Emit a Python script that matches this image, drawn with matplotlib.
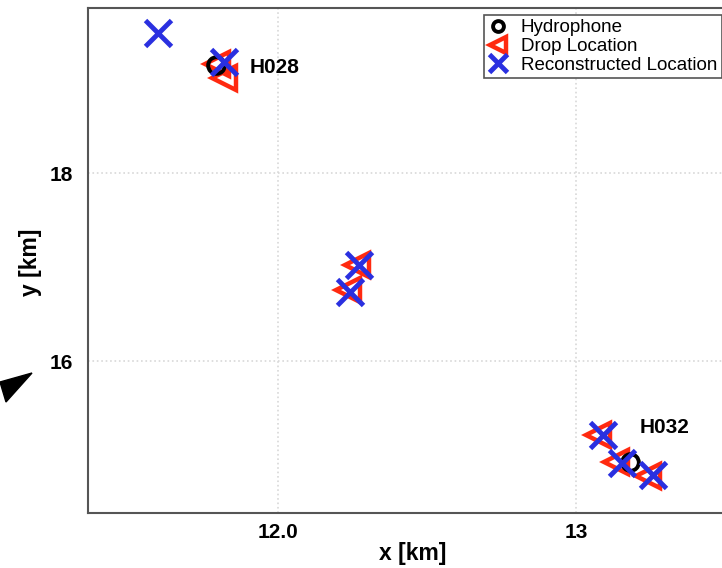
import matplotlib.pyplot as plt
from matplotlib.patches import Polygon

plt.rcParams['font.family'] = ['Liberation Sans', 'DejaVu Sans']

# hydrophone positions [km]
hyd_x = [11.792, 13.181]
hyd_y = [19.15, 14.926]
hyd_names = ['H028', 'H032']

# drop locations [km]
drop_x = [11.795, 11.819, 12.265, 12.235, 13.074, 13.134, 13.242]
drop_y = [19.16, 19.01, 17.02, 16.76, 15.21, 14.93, 14.78]

# reconstructed locations [km]
rec_x = [11.597, 11.819, 12.272, 12.242, 13.091, 13.154, 13.258]
rec_y = [19.49, 19.18, 17.02, 16.73, 15.21, 14.915, 14.787]

fig = plt.figure(figsize=(7.22, 5.68), dpi=100)
ax = fig.add_axes([0.1219, 0.0968, 0.9, 0.889])

ax.plot(hyd_x, hyd_y, 'o', ms=12, mfc='none', mec='black', mew=2.8, zorder=3, label='Hydrophone')
ax.plot(drop_x, drop_y, '<', ms=17, mfc='none', mec='#ff2a10', mew=3.2, zorder=2, label='Drop Location')
ax.plot(rec_x, rec_y, 'x', ms=19, mec='#2a30e0', mew=3.5, zorder=4, label='Reconstructed Location')

ax.text(11.906, 19.12, hyd_names[0], fontsize=15, fontweight='bold', va='center')
ax.text(13.215, 15.29, hyd_names[1], fontsize=15, fontweight='bold', va='center')

ax.set_xlim(11.362, 13.543)
ax.set_ylim(14.383, 19.755)
ax.set_xticks([12.0, 13.0])
ax.set_xticklabels(['12.0', '13'])
ax.set_yticks([16, 18])
ax.set_yticklabels(['16', '18'])
ax.tick_params(axis='x', length=0, labelsize=15, pad=7)
ax.tick_params(axis='y', length=0, labelsize=15, pad=11)
for lab in ax.get_xticklabels() + ax.get_yticklabels():
    lab.set_fontweight('bold')

ax.grid(True, color='#d8d8d8', linestyle=':', linewidth=1.2)
for s in ax.spines.values():
    s.set_color('#555555')
    s.set_linewidth(1.5)

ax.set_xlabel('x [km]', fontsize=16.5, fontweight='bold', labelpad=0)
ax.set_ylabel('y [km]', fontsize=16.5, fontweight='bold')
ax.yaxis.set_label_coords(-0.071, 0.497)

leg = ax.legend(loc='upper right', bbox_to_anchor=(0.975, 0.987), fontsize=13.5,
                handletextpad=0.7, borderpad=0.25, labelspacing=0.08, handlelength=1.0,
                borderaxespad=0, fancybox=False, framealpha=1, markerscale=0.65)
leg.get_frame().set_edgecolor('#555555')
leg.get_frame().set_linewidth(1.2)

# black arrow head at the left edge
W, H = 722, 568
pts = [(32, 373), (0, 382), (6, 402)]
fig.patches.append(Polygon([(x / W, 1 - y / H) for x, y in pts], closed=True,
                           transform=fig.transFigure, color='black'))

fig.savefig('out.png', dpi=100)
